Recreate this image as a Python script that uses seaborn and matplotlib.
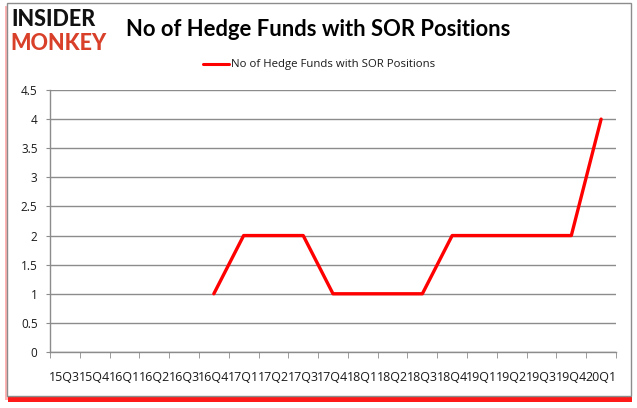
import numpy as np
import pandas as pd
import matplotlib
matplotlib.use("Agg")
import matplotlib.pyplot as plt
from matplotlib.patches import Rectangle
import seaborn as sns

quarters = ["15Q3", "15Q4", "16Q1", "16Q2", "16Q3", "16Q4", "17Q1", "17Q2",
            "17Q3", "17Q4", "18Q1", "18Q2", "18Q3", "18Q4", "19Q1", "19Q2",
            "19Q3", "19Q4", "20Q1"]
funds = [np.nan, np.nan, np.nan, np.nan, np.nan, 1, 2, 2, 2, 1, 1, 1, 1,
         2, 2, 2, 2, 2, 4]
series_name = "No of Hedge Funds with SOR Positions"
y_ticks = [0, 0.5, 1, 1.5, 2, 2.5, 3, 3.5, 4, 4.5]

df = pd.DataFrame({"pos": np.arange(len(quarters)), "funds": funds})

sns.set_style("white")
plt.rcParams["font.family"] = ["Open Sans", "DejaVu Sans"]

W, H = 637, 408
fig = plt.figure(figsize=(W / 100, H / 100), dpi=100)


def px_rect(x0, y0, x1, y1, **kw):
    # rectangle given in pixel coords from the top-left corner
    return Rectangle((x0 / W, 1 - y1 / H), (x1 - x0) / W, (y1 - y0) / H,
                     transform=fig.transFigure, **kw)


# outer frame with red shadow
fig.patches.append(px_rect(5, 6, 630, 400, facecolor="#ffb3b3",
                           edgecolor="none", zorder=0))
fig.patches.append(px_rect(8, 8, 632, 402, facecolor="#ff1a1a",
                           edgecolor="none", zorder=0))
fig.patches.append(px_rect(7, 3, 631, 396, facecolor="white",
                           edgecolor="#8c8c8c", linewidth=1.0, zorder=1))

ax = fig.add_axes([50 / W, 1 - 352 / H, 566 / W, 262 / H])
ax.set_zorder(2)

sns.lineplot(data=df, x="pos", y="funds", color="#ff0000", linewidth=2.4,
             ax=ax, label=series_name, legend=False)

ax.set_xlim(-0.5, len(quarters) - 0.5)
ax.set_ylim(0, 4.5)
ax.set_yticks(y_ticks)
ax.set_yticklabels([f"{v:g}" for v in y_ticks])
ax.yaxis.grid(True, color="#8c8c8c", linewidth=1.0)
ax.set_axisbelow(True)

ax.set_xticks(np.arange(len(quarters)))
ax.set_xticklabels(quarters)
ax.set_xticks(np.arange(-0.5, len(quarters)), minor=True)
ax.tick_params(axis="x", which="major", length=0, pad=14, labelsize=9,
               colors="#1a1a1a")
ax.tick_params(axis="x", which="minor", length=4, color="#8c8c8c",
               direction="out", bottom=True)
ax.tick_params(axis="y", length=3, color="#8c8c8c", labelsize=8.5,
               colors="#1a1a1a", left=True, pad=6)
ax.set_xlabel("")
ax.set_ylabel("")
for side in ["top", "right"]:
    ax.spines[side].set_visible(False)
for side in ["left", "bottom"]:
    ax.spines[side].set_color("#8c8c8c")
    ax.spines[side].set_linewidth(1.0)

# legend
fig.add_artist(plt.Line2D([203 / W, 229 / W], [1 - 64 / H, 1 - 64 / H],
                          color="#ff0000", linewidth=2.2,
                          transform=fig.transFigure))
fig.text(231 / W, 1 - 64 / H, series_name, fontsize=8.2, color="#1a1a1a",
         va="center", ha="left")

# title
fig.text(318 / W, 1 - 30 / H, "No of Hedge Funds with SOR Positions",
         fontsize=15.8, fontweight="bold", color="black",
         va="center", ha="center", family=["Lato", "DejaVu Sans"])

# logo
fig.text(11 / W, 1 - 20 / H, "INSIDER", fontsize=15.5, fontweight="black",
         color="#111111", va="center", ha="left",
         family=["Lato", "DejaVu Sans"])
fig.text(10 / W, 1 - 43 / H, "MONKEY", fontsize=15.5, fontweight="black",
         color="#d9402a", va="center", ha="left",
         family=["Lato", "DejaVu Sans"])

fig.savefig("out.png", dpi=100)
